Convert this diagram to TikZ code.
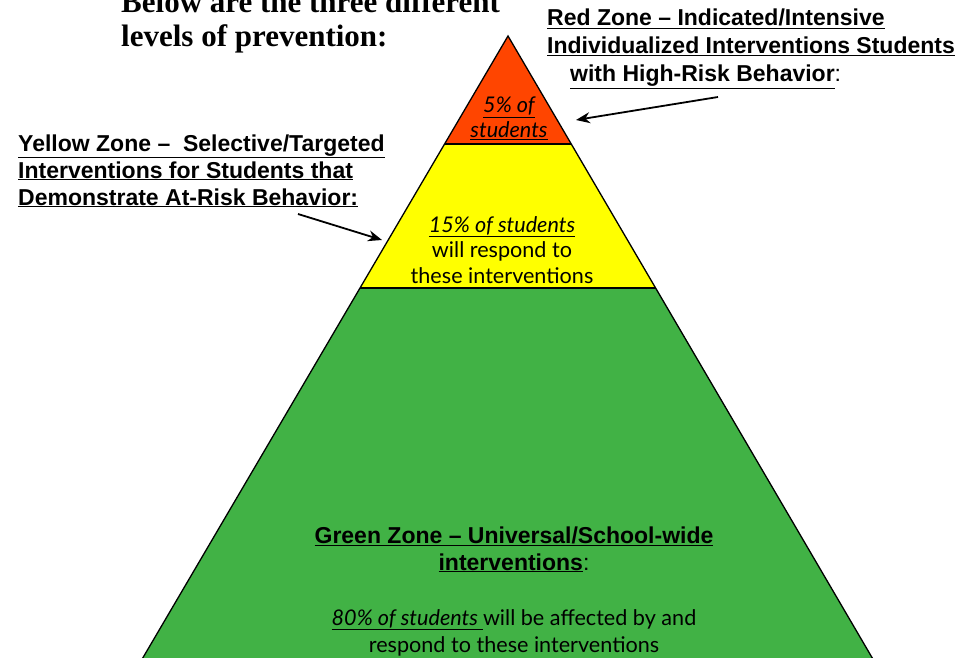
\documentclass[tikz,border=0pt]{standalone}
\usepackage{fontspec}
\setmainfont[Ligatures=TeX]{Liberation Serif}
\newfontfamily\gill[Ligatures=TeX]{Lato}
\newfontfamily\gillb[Ligatures=TeX]{Liberation Sans}
\usetikzlibrary{arrows.meta}
\definecolor{zred}{RGB}{255,69,0}
\definecolor{zyellow}{RGB}{255,255,0}
\definecolor{zgreen}{RGB}{65,178,69}
\tikzset{
  zone/.style={draw=black,line width=1.3pt,line join=miter},
  lbl/.style={font=\gillb\bfseries\fontsize{23}{28}\selectfont,inner sep=0pt,anchor=base west},
  body/.style={font=\gill\fontsize{21.6}{26}\selectfont,inner sep=0pt,anchor=base},
  title/.style={font=\bfseries\fontsize{31}{34}\selectfont,inner sep=0pt,anchor=base west},
  pointer/.style={line width=1.8pt,-{Stealth[length=14pt,width=11pt]}}
}
\begin{document}
\begin{tikzpicture}[x=1pt,y=-1pt]
\useasboundingbox (0,0) rectangle (974,658);
\clip (0,0) rectangle (974,658);
\coordinate (apex) at (508,36);
\coordinate (rl) at (445,144);
\coordinate (rr) at (571,144);
\coordinate (yl) at (360,288);
\coordinate (yr) at (656,288);
\coordinate (gl) at (131,678);
\coordinate (gr) at (884,678);
\fill[zgreen] (yl) -- (yr) -- (gr) -- (gl) -- cycle;
\fill[zyellow] (rl) -- (rr) -- (yr) -- (yl) -- cycle;
\fill[zred] (apex) -- (rr) -- (rl) -- cycle;
\draw[zone] (gl) -- (apex) -- (gr);
\draw[zone] (rl) -- (rr);
\draw[zone] (yl) -- (yr);
% title
\node[title] (t1) at (121,13) {Below are the three different};
\node[title] (t2) at (121,47) {levels of prevention:};
% red label
\node[lbl] (r1) at (547,26) {\underline{Red Zone -- Indicated/Intensive}};
\node[lbl] (r2) at (547,54) {\underline{Individualized Interventions Students}};
\node[lbl] (r3) at (570,82) {\underline{with High-Risk Behavior}\mdseries:};
% yellow label
\node[lbl] (y1) at (18,151) {\underline{Yellow Zone --\ \ Selective/Targeted}};
\node[lbl] (y2) at (18,178) {\underline{Interventions for Students that}};
\node[lbl] (y3) at (18,205) {\underline{Demonstrate At-Risk Behavior:}};
% red zone text
\node[body] (rt1) at (509,113) {\itshape\underline{5\% of}};
\node[body] (rt2) at (509,138) {\itshape\underline{students}};
% yellow zone text
\node[body] (yt1) at (502,232) {\itshape\underline{15\% of students}};
\node[body] (yt2) at (502,257) {will respond to};
\node[body] (yt3) at (502,283) {these interventions};
% green zone text
\node[lbl,anchor=base] (g1) at (514,543) {\underline{Green Zone -- Universal/School-wide}};
\node[lbl,anchor=base] (g2) at (514,570) {\underline{interventions}\mdseries:};
\node[body] (g3) at (514,625) {\underline{\itshape 80\% of students }will be affected by and};
\node[body] (g4) at (514,652) {respond to these interventions};
% arrows
\coordinate (ra) at (718,97);
\coordinate (rtip) at (576,120);
\coordinate (ya) at (298,214);
\coordinate (ytip) at (382,240);
\draw[pointer] (ra) -- (rtip);
\draw[pointer] (ya) -- (ytip);
\end{tikzpicture}
\end{document}
